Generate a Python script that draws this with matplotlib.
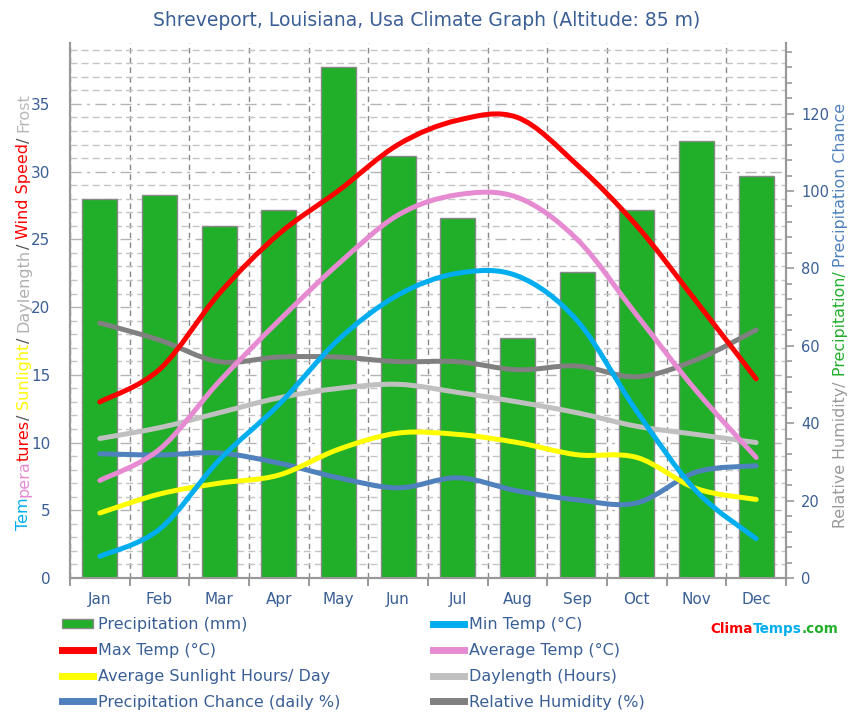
import numpy as np
import matplotlib
matplotlib.use('Agg')
import matplotlib.pyplot as plt
from matplotlib.path import Path
from matplotlib.patches import PathPatch, Patch
from matplotlib.lines import Line2D
from matplotlib.ticker import MultipleLocator, FixedLocator

# data
months = ['Jan', 'Feb', 'Mar', 'Apr', 'May', 'Jun', 'Jul', 'Aug', 'Sep', 'Oct', 'Nov', 'Dec']
precip_mm = [98, 99, 91, 95, 132, 109, 93, 62, 79, 95, 113, 104]
max_temp = [13.0, 15.4, 21.0, 25.4, 28.6, 32.0, 33.8, 34.0, 30.5, 26.0, 20.4, 14.7]
avg_temp = [7.2, 9.5, 14.5, 19.0, 23.2, 26.8, 28.3, 28.1, 25.0, 19.4, 13.8, 8.9]
min_temp = [1.6, 3.6, 8.7, 12.8, 17.6, 20.9, 22.5, 22.3, 19.0, 12.3, 6.4, 2.9]
sunlight = [4.8, 6.2, 7.0, 7.6, 9.5, 10.7, 10.6, 10.0, 9.1, 8.9, 6.6, 5.8]
daylength = [10.3, 11.1, 12.2, 13.3, 14.0, 14.3, 13.7, 13.0, 12.2, 11.2, 10.6, 10.0]
precip_chance = [32.1, 31.8, 32.3, 29.7, 25.9, 23.3, 25.9, 22.5, 20.2, 19.4, 27.4, 29.0]
humidity = [65.9, 61.5, 55.9, 57.1, 57.1, 55.9, 55.9, 53.8, 54.8, 52.0, 56.4, 64.1]

TXT = '#3A5F95'
plt.rcParams['font.family'] = 'DejaVu Sans'

fig = plt.figure(figsize=(8.51, 7.19), dpi=100)
ax = fig.add_axes([70/851, 1-578/719, 716/851, 535/719])
ax2 = ax.twinx()

x = np.arange(len(months))
ax.set_xlim(-0.5, 11.5)
ax.set_ylim(0, 39.5)
ax2.set_ylim(0, 39.5*3.5)

# grid on the left axis (drawn behind everything)
ax.yaxis.set_major_locator(MultipleLocator(5))
ax.yaxis.set_minor_locator(MultipleLocator(1))
ax.set_xticks(x)
ax.set_xticklabels(months)
ax.xaxis.set_minor_locator(FixedLocator(np.arange(-0.5, 12, 1)))
ax.grid(which='minor', axis='y', color='#C4C4C4', ls=(0, (5, 3)), lw=1)
ax.grid(which='major', axis='y', color='#B4B4B4', ls=(0, (8, 4, 2, 4)), lw=1)
ax.grid(which='minor', axis='x', color='#888888', ls=(0, (4, 3)), lw=1)
ax.set_axisbelow(True)
ax.tick_params(axis='x', which='major', length=0, pad=10, labelsize=11, colors=TXT)
ax.tick_params(axis='x', which='minor', length=6, color='#888888', width=1.2)
ax.tick_params(axis='y', which='both', length=0, pad=14, labelsize=11, colors=TXT)

ax2.yaxis.set_major_locator(MultipleLocator(20))
ax2.yaxis.set_minor_locator(MultipleLocator(4))
ax2.tick_params(axis='y', which='major', length=6, color='#999999', width=1.2, pad=5, labelsize=10.5, labelcolor=TXT)
ax2.tick_params(axis='y', which='minor', length=4, color='#999999', width=1.2)

for a in (ax, ax2):
    a.spines['top'].set_visible(False)
    for s in ('left', 'right', 'bottom'):
        a.spines[s].set_color('#999999')
        a.spines[s].set_linewidth(1.5)

# bars
ax2.bar(x, precip_mm, width=0.59, color='#21AE29', edgecolor='#888888', linewidth=1, zorder=2)


def smooth(axis, xs, ys, color, trans, lw=3.6):
    pts = np.column_stack([xs, ys]).astype(float)
    p = np.vstack([pts[0], pts, pts[-1]])
    verts = [pts[0]]
    codes = [Path.MOVETO]
    for i in range(1, len(p) - 2):
        c1 = p[i] + (p[i+1] - p[i-1]) / 6
        c2 = p[i+1] - (p[i+2] - p[i]) / 6
        verts += [c1, c2, p[i+1]]
        codes += [Path.CURVE4] * 3
    axis.add_patch(PathPatch(Path(verts, codes), fill=False, edgecolor=color, lw=lw,
                             capstyle='round', joinstyle='round', transform=trans, zorder=3))


L = ax.transData
R = ax2.transData
smooth(ax2, x, daylength, '#C0C0C0', L)
smooth(ax2, x, humidity, '#808080', R)
smooth(ax2, x, precip_chance, '#4F81BD', R)
smooth(ax2, x, sunlight, '#FFFF00', L)
smooth(ax2, x, min_temp, '#00AEEF', L)
smooth(ax2, x, avg_temp, '#E68BD2', L)
smooth(ax2, x, max_temp, '#FF0000', L)

# title
fig.text(427/851, 1-20/719, 'Shreveport, Louisiana, Usa Climate Graph (Altitude: 85 m)',
         ha='center', va='center', fontsize=13.5, color=TXT)


def chain_v(pieces, x0, y0, size):
    prev = fig.text(x0, y0, pieces[0][0], rotation=90, ha='center', va='bottom',
                    color=pieces[0][1], fontsize=size)
    for txt, col in pieces[1:]:
        prev = ax.annotate(txt, xy=(0.5, 1), xycoords=prev, rotation=90, ha='center',
                           va='bottom', color=col, fontsize=size, annotation_clip=False)
    return prev


chain_v([('Tem', '#00AEEF'), ('pera', '#E68BD2'), ('tures', '#FF0000'), ('/ ', '#555555'),
         ('Sunlight', '#FFFF00'), ('/ ', '#555555'), ('Daylength', '#B0B0B0'), ('/ ', '#555555'),
         ('Wind Speed', '#FF0000'), ('/ ', '#555555'), ('Frost', '#B8B8B8')],
        24/851, 1-530/719, 11.5)

chain_v([('Relative Humidity/ ', '#999999'), ('Precipitation/ ', '#21AE29'),
         ('Precipitation Chance', '#4F81BD')],
        840/851, 1-528/719, 11.4)

# legend
h1 = [Patch(facecolor='#21AE29', edgecolor='#888888'),
      Line2D([], [], color='#FF0000', lw=5),
      Line2D([], [], color='#FFFF00', lw=5),
      Line2D([], [], color='#4F81BD', lw=5)]
l1 = ['Precipitation (mm)', 'Max Temp (°C)', 'Average Sunlight Hours/ Day', 'Precipitation Chance (daily %)']
h2 = [Line2D([], [], color='#00AEEF', lw=5),
      Line2D([], [], color='#E68BD2', lw=5),
      Line2D([], [], color='#C0C0C0', lw=5),
      Line2D([], [], color='#808080', lw=5)]
l2 = ['Min Temp (°C)', 'Average Temp (°C)', 'Daylength (Hours)', 'Relative Humidity (%)']
for hs, ls_, x0 in ((h1, l1, 62/851), (h2, l2, 433/851)):
    lg = fig.legend(hs, ls_, loc='upper left', bbox_to_anchor=(x0, 1-617/719), frameon=False,
                    fontsize=11.5, handlelength=1.95, handleheight=0.55, handletextpad=0.3,
                    labelspacing=0.68, borderpad=0, borderaxespad=0)
    for t in lg.get_texts():
        t.set_color(TXT)

# logo
prev = fig.text(710/851, 1-629/719, 'Clima', color='#FF0000', fontsize=9.8, fontweight='bold',
                ha='left', va='center')
for txt, col in (('Temps', '#00AEEF'), ('.com', '#21AE29')):
    prev = ax.annotate(txt, xy=(1, 0), xycoords=prev, ha='left', va='bottom', color=col,
                       fontsize=9.8, fontweight='bold', annotation_clip=False)

fig.savefig('out.png', dpi=100)
